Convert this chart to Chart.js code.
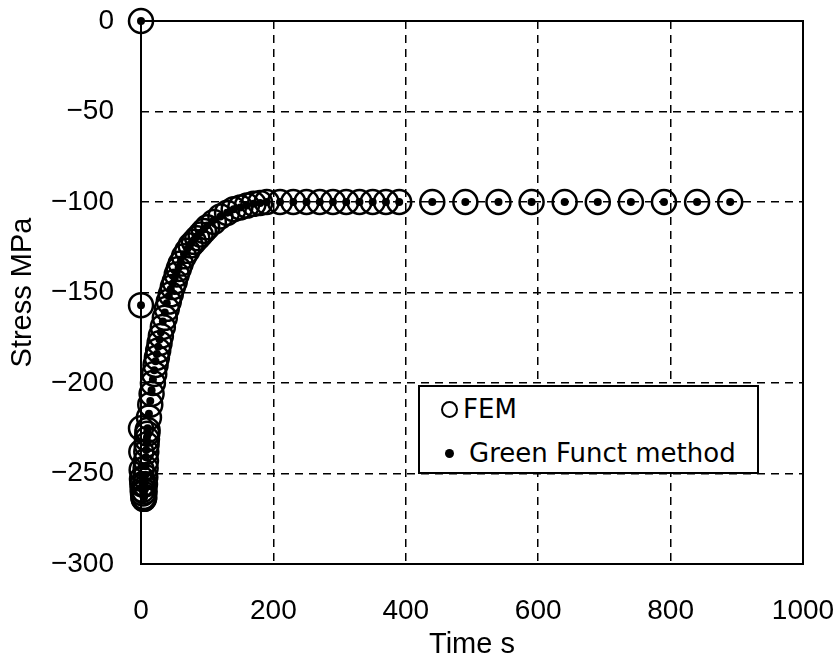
<!DOCTYPE html>
<html>
<head>
<meta charset="utf-8">
<script src="https://cdn.jsdelivr.net/npm/chart.js@4.4.0/dist/chart.umd.min.js"></script>
<style>
  html, body { margin: 0; padding: 0; background: #fff; }
  #wrap { position: relative; width: 835px; height: 670px; }
  #legend {
    position: absolute; left: 418px; top: 385px; width: 341px; height: 89px;
    box-sizing: border-box; border: 2px solid #000; background: #fff;
    font-family: "DejaVu Sans", sans-serif; font-size: 26px; color: #000;
  }
  #legend .row { position: absolute; left: 0; height: 30px; line-height: 30px; white-space: nowrap; }
  #legend .ring { position: absolute; width: 17px; height: 17px; border: 2px solid #000; border-radius: 50%; box-sizing: border-box; }
  #legend .dot { position: absolute; width: 9px; height: 9px; background: #000; border-radius: 50%; }
  #legend .txt { position: absolute; top: 0; }
</style>
</head>
<body>
<div id="wrap">
  <canvas id="stressChart" width="835" height="670"></canvas>
  <div id="legend">
    <div class="row" style="top: 7px;">
      <span class="ring" style="left: 21px; top: 7px;"></span>
      <span class="txt" style="left: 43px;">FEM</span>
    </div>
    <div class="row" style="top: 51px;">
      <span class="dot" style="left: 25px; top: 11px;"></span>
      <span class="txt" style="left: 49px;">Green Funct method</span>
    </div>
  </div>
</div>
<script>
// values
const femTime = [0, 0, 0, 0.5, 1, 1.5, 2, 2.5, 3, 3.5, 4, 4.5, 5, 5.5, 6, 6.5, 7, 7.5, 8, 8.5, 9, 9.5, 10,
  12, 14, 16, 18, 20, 22, 24, 26, 28, 30,
  33, 36, 39, 42, 45, 48, 51, 54, 57, 60, 65, 70, 75, 80, 85, 90, 95, 100, 110, 120, 130, 140,
  150, 160, 170, 180, 190, 210, 230, 250, 270, 290, 310, 330, 350, 370, 390,
  440, 490, 540, 590, 640, 690, 740, 790, 840, 890];
const femStress = [0, -157, -225, -238, -248, -253, -256, -259, -261, -263, -264, -264, -263, -260,
  -256, -252, -247, -243, -238, -234, -231, -228, -226,
  -219, -212, -206, -200, -195, -190, -186, -182, -178, -174, -169, -164, -159, -155, -151, -147,
  -144, -140, -137, -134, -130, -127, -124, -122, -120, -118, -116, -114, -111, -108, -106, -104,
  -103, -102, -101, -100.5, -100, -100, -100, -100, -100, -100, -100, -100, -100, -100, -100,
  -100, -100, -100, -100, -100, -100, -100, -100, -100, -100];

const greenTime = [0, 0, 1, 1.5, 2, 2.5, 3, 3.5, 4, 4.5, 5, 5.5, 6, 6.5, 7, 7.5, 8, 8.5, 9, 9.5, 10,
  12, 14, 16, 18, 20, 22, 24, 26, 28, 30,
  33, 36, 39, 42, 45, 48, 51, 54, 57, 60, 65, 70, 75, 80, 85, 90, 95, 100, 110, 120, 130, 140,
  150, 160, 170, 180, 190, 210, 230, 250, 270, 290, 310, 330, 350, 370, 390,
  440, 490, 540, 590, 640, 690, 740, 790, 840, 890];
const greenStress = [0, -157, -246, -251, -255, -258, -260, -262, -263, -263, -262, -259,
  -255, -251, -246, -241, -237, -233, -230, -227, -225,
  -217, -210, -204, -198, -193, -188, -184, -180, -176, -172, -166, -161, -156, -152, -148, -145,
  -142, -139, -136, -133, -129, -126, -123, -121, -119, -117, -115, -113, -110, -108, -106, -104,
  -103, -102, -101, -100.5, -100, -100, -100, -100, -100, -100, -100, -100, -100, -100, -100,
  -100, -100, -100, -100, -100, -100, -100, -100, -100, -100];

const xTicks = [0, 200, 400, 600, 800, 1000];
const yTicks = [0, -50, -100, -150, -200, -250, -300];

function toPoints(xs, ys) {
  return xs.map((x, i) => ({ x: x, y: ys[i] }));
}

// solid box round the plot area
const framePlugin = {
  id: "frame",
  beforeDatasetsDraw(chart) {
    const { ctx, chartArea } = chart;
    ctx.save();
    ctx.setLineDash([]);
    ctx.lineWidth = 2;
    ctx.strokeStyle = "#000";
    ctx.strokeRect(chartArea.left, chartArea.top, chartArea.right - chartArea.left, chartArea.bottom - chartArea.top);
    ctx.restore();
  },
};

const tickFont = { family: "Liberation Sans", size: 28 };
const titleFont = { family: "Liberation Sans", size: 29 };

new Chart(document.getElementById("stressChart"), {
  type: "scatter",
  data: {
    datasets: [
      {
        label: "Green Funct method",
        data: toPoints(greenTime, greenStress),
        pointRadius: 4,
        pointBackgroundColor: "#000",
        pointBorderColor: "#000",
        pointBorderWidth: 0,
        clip: false,
        order: 0,
      },
      {
        label: "FEM",
        data: toPoints(femTime, femStress),
        pointRadius: 12,
        pointBackgroundColor: "rgba(0,0,0,0)",
        pointBorderColor: "#000",
        pointBorderWidth: 2.5,
        clip: false,
        order: 1,
      },
    ],
  },
  options: {
    responsive: false,
    animation: false,
    devicePixelRatio: 1,
    layout: { padding: { top: 21, right: 32, left: 0, bottom: 0 } },
    plugins: {
      legend: { display: false },
      tooltip: { enabled: false },
    },
    scales: {
      x: {
        type: "linear",
        min: xTicks[0],
        max: xTicks[xTicks.length - 1],
        afterFit(scale) {
          scale.height = 106;
          scale.paddingLeft = 0;
          scale.paddingRight = 0;
        },
        afterBuildTicks(scale) { scale.ticks = xTicks.map((v) => ({ value: v })); },
        ticks: { color: "#000", font: tickFont, padding: 30, maxRotation: 0, callback: (v) => String(v) },
        grid: { color: "#000", lineWidth: 1.5, drawTicks: false },
        border: { display: false, dash: [8, 6] },
        title: { display: true, text: "Time s", color: "#000", font: titleFont, padding: { top: 0, bottom: 8 } },
      },
      y: {
        type: "linear",
        min: yTicks[yTicks.length - 1],
        max: yTicks[0],
        afterFit(scale) {
          scale.width = 141;
          scale.paddingTop = 0;
          scale.paddingBottom = 0;
        },
        afterBuildTicks(scale) { scale.ticks = yTicks.map((v) => ({ value: v })); },
        ticks: {
          color: "#000",
          font: tickFont,
          padding: 27,
          callback: (v) => (v < 0 ? "\u2212" + Math.abs(v) : String(v)),
        },
        grid: { color: "#000", lineWidth: 1.5, drawTicks: false },
        border: { display: false, dash: [8, 6] },
        title: { display: true, text: "Stress MPa", color: "#000", font: titleFont, padding: { top: 6, bottom: 0 } },
      },
    },
  },
  plugins: [framePlugin],
});
</script>
</body>
</html>
